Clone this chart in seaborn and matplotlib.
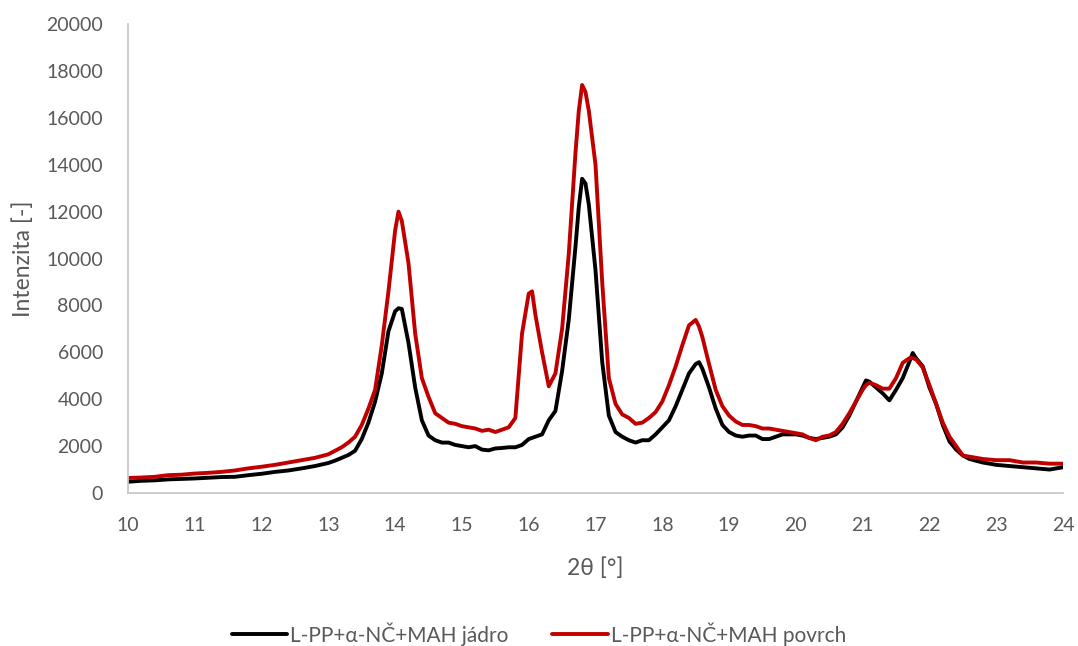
import numpy as np
import pandas as pd
import matplotlib
matplotlib.use("Agg")
import matplotlib.pyplot as plt
import seaborn as sns
from matplotlib.lines import Line2D

# 2theta grid [deg]
two_theta = [10.0, 10.2, 10.4, 10.6, 10.8, 11.0, 11.2, 11.4, 11.6, 11.8, 12.0, 12.2, 12.4, 12.6, 12.8,
             13.0, 13.1, 13.2, 13.3, 13.4, 13.5, 13.6, 13.7, 13.8, 13.9, 14.0, 14.05, 14.1, 14.2, 14.3,
             14.4, 14.5, 14.6, 14.7, 14.8, 14.9, 15.0, 15.1, 15.2, 15.3, 15.4, 15.5, 15.6, 15.7, 15.8,
             15.9, 16.0, 16.05, 16.1, 16.2, 16.3, 16.4, 16.5, 16.6, 16.7, 16.75, 16.8, 16.85, 16.9, 17.0,
             17.1, 17.2, 17.3, 17.4, 17.5, 17.6, 17.7, 17.8, 17.9, 18.0, 18.1, 18.2, 18.3, 18.4, 18.5,
             18.55, 18.6, 18.7, 18.8, 18.9, 19.0, 19.1, 19.2, 19.3, 19.4, 19.5, 19.6, 19.7, 19.8, 19.9,
             20.0, 20.1, 20.2, 20.3, 20.4, 20.5, 20.6, 20.7, 20.8, 20.9, 21.0, 21.05, 21.1, 21.2, 21.3,
             21.4, 21.5, 21.6, 21.7, 21.75, 21.8, 21.9, 22.0, 22.1, 22.2, 22.3, 22.4, 22.5, 22.6, 22.8,
             23.0, 23.2, 23.4, 23.6, 23.8, 24.0]

jadro = [480, 520, 540, 580, 600, 620, 650, 680, 690, 760, 820, 900, 960, 1050, 1150,
         1280, 1380, 1500, 1620, 1800, 2300, 3000, 3900, 5100, 6900, 7750, 7880, 7850, 6400, 4500,
         3100, 2450, 2250, 2150, 2150, 2050, 2000, 1950, 2000, 1850, 1820, 1900, 1920, 1950, 1950,
         2050, 2300, 2350, 2400, 2500, 3100, 3500, 5200, 7400, 10500, 12200, 13400, 13200, 12300, 9500,
         5600, 3300, 2600, 2400, 2250, 2150, 2250, 2250, 2500, 2800, 3100, 3700, 4400, 5100, 5500,
         5580, 5300, 4500, 3600, 2900, 2600, 2450, 2400, 2450, 2450, 2300, 2300, 2400, 2500, 2500,
         2500, 2450, 2350, 2300, 2350, 2400, 2500, 2800, 3300, 3900, 4500, 4800, 4750, 4500, 4250,
         3950, 4400, 4900, 5600, 5970, 5750, 5400, 4500, 3800, 2900, 2200, 1850, 1600, 1450, 1300,
         1200, 1150, 1100, 1050, 1000, 1100]

povrch = [640, 660, 690, 760, 780, 830, 860, 900, 960, 1050, 1120, 1200, 1300, 1400, 1500,
          1650, 1800, 1950, 2150, 2400, 2900, 3600, 4400, 6300, 8600, 11200, 12000, 11600, 9800, 6800,
          4900, 4100, 3400, 3200, 3000, 2950, 2850, 2800, 2750, 2650, 2700, 2600, 2700, 2800, 3200,
          6800, 8500, 8600, 7600, 6000, 4550, 5100, 7000, 10200, 14500, 16300, 17400, 17100, 16300, 14000,
          9000, 4900, 3800, 3350, 3200, 2950, 3000, 3200, 3450, 3900, 4600, 5400, 6300, 7150, 7380,
          7100, 6650, 5500, 4400, 3700, 3300, 3050, 2900, 2900, 2850, 2750, 2750, 2700, 2650, 2600,
          2550, 2500, 2350, 2250, 2400, 2450, 2600, 2950, 3400, 3900, 4400, 4600, 4700, 4600, 4450,
          4450, 4900, 5550, 5750, 5750, 5700, 5350, 4600, 3800, 3000, 2400, 2000, 1600, 1550, 1450,
          1400, 1400, 1300, 1300, 1250, 1250]

series_names = ["L-PP+α-NČ+MAH jádro", "L-PP+α-NČ+MAH povrch"]
x_ticks = list(range(10, 25))
y_ticks = list(range(0, 20001, 2000))

df = pd.DataFrame({
    "x": two_theta * 2,
    "y": jadro + povrch,
    "series": [series_names[0]] * len(two_theta) + [series_names[1]] * len(two_theta),
})

sns.set_theme(style="white")
plt.rcParams['font.family'] = ['Lato', 'DejaVu Sans']
txt = "#595959"

fig = plt.figure(figsize=(10.78, 6.46), dpi=100)
ax = fig.add_axes([128 / 1078, 1 - 493 / 646, (1063 - 128) / 1078, (493 - 24) / 646])

sns.lineplot(data=df, x="x", y="y", hue="series", ax=ax,
             palette=["#000000", "#C00000"], linewidth=2.8, legend=False, sort=False)

ax.set_xlim(10, 24)
ax.set_ylim(0, 20000)
ax.set_xticks(x_ticks)
ax.set_yticks(y_ticks)
ax.tick_params(axis="both", length=0, labelsize=14, colors=txt)
ax.tick_params(axis="y", pad=18)
ax.tick_params(axis="x", pad=17)
for s in ["top", "right"]:
    ax.spines[s].set_visible(False)
for s in ["left", "bottom"]:
    ax.spines[s].set_color("#C8C8C8")
    ax.spines[s].set_linewidth(1.3)
ax.grid(False)
ax.set_xlabel("2θ [°]", fontsize=16.5, color=txt, labelpad=17)
ax.set_ylabel("Intenzita [-]", fontsize=16.5, color=txt, labelpad=9)

handles = [Line2D([0], [0], color="#000000", lw=2.8), Line2D([0], [0], color="#C00000", lw=2.8)]
fig.legend(handles, series_names, loc="center", bbox_to_anchor=(0.5, 1 - 634 / 646), ncol=2,
           frameon=False, fontsize=15, labelcolor=txt, handlelength=2.65, handletextpad=0.15,
           columnspacing=2.1)

fig.savefig("out.png", dpi=100)
